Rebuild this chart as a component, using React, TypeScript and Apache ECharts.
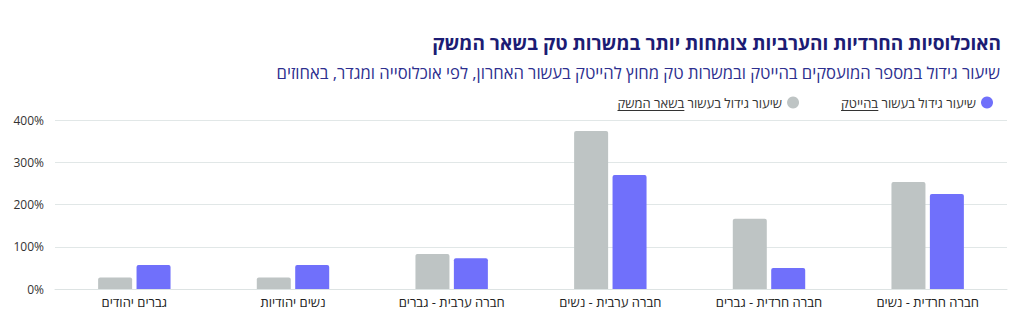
import React, { useEffect, useRef } from "react";
import * as echarts from "echarts";

const categories = [
  "גברים יהודים",
  "נשים יהודיות",
  "חברה ערבית - גברים",
  "חברה ערבית - נשים",
  "חברה חרדית - גברים",
  "חברה חרדית - נשים",
];
const restOfEconomy = [27, 27, 83, 374, 166, 253];
const hiTech = [57, 57, 73, 270, 50, 225];
const yTicks = [0, 100, 200, 300, 400];

const titleText = "האוכלוסיות החרדיות והערביות צומחות יותר במשרות טק בשאר המשק";
const subtitleText =
  "שיעור גידול במספר המועסקים בהייטק ובמשרות טק מחוץ להייטק בעשור האחרון, לפי אוכלוסייה ומגדר, באחוזים";
const restName = "שיעור גידול בעשור בשאר המשק";
const hiTechName = "שיעור גידול בעשור בהייטק";
const restUnderlined = "בשאר המשק";
const hiTechUnderlined = "בהייטק";

const FONT = "'Open Sans', 'Liberation Sans', 'DejaVu Sans', sans-serif";

export default function App() {
  const ref = useRef<HTMLDivElement>(null);
  useEffect(() => {
    document.body.style.margin = "0";
    if (!ref.current) return;
    const chart = echarts.init(ref.current, undefined, { renderer: "svg" });

    const legendFontSize = 13;
    const legendY = 99;

    chart.setOption({
      animation: false,
      textStyle: { fontFamily: FONT },
      title: [
        {
          text: titleText,
          right: 18,
          top: 28,
          textStyle: { fontSize: 19, fontWeight: "bold", color: "#1c1c74", fontFamily: FONT },
        },
        {
          text: subtitleText,
          right: 19,
          top: 59,
          textStyle: { fontSize: 16.6, fontWeight: "normal", color: "#2d2f8f", fontFamily: FONT },
        },
      ],
      legend: {
        data: [restName, hiTechName],
        right: 26,
        top: legendY - 8,
        icon: "circle",
        itemWidth: 12,
        itemHeight: 12,
        itemGap: 42,
        align: "right",
        textStyle: { fontSize: legendFontSize, color: "#333", fontFamily: FONT },
        selectedMode: false,
      },
      grid: { left: 55, right: 17, top: 120, bottom: 42, containLabel: false },
      xAxis: {
        type: "category",
        data: categories,
        axisTick: { show: false },
        axisLine: { lineStyle: { color: "#dde3e3" } },
        axisLabel: { fontSize: 13, color: "#222", margin: 6, fontFamily: FONT },
      },
      yAxis: {
        type: "value",
        min: yTicks[0],
        max: yTicks[yTicks.length - 1],
        interval: 100,
        axisLabel: { formatter: "{value}%", fontSize: 12, color: "#333", margin: 11, fontFamily: FONT },
        splitLine: { lineStyle: { color: "#e1e7e7" } },
        axisLine: { show: false },
        axisTick: { show: false },
      },
      series: [
        {
          name: restName,
          type: "bar",
          data: restOfEconomy,
          barWidth: 34,
          barGap: "13%",
          itemStyle: { color: "#bec4c4", borderRadius: [2, 2, 0, 0] },
        },
        {
          name: hiTechName,
          type: "bar",
          data: hiTech,
          barWidth: 34,
          barGap: "13%",
          itemStyle: { color: "#7070fb", borderRadius: [2, 2, 0, 0] },
        },
      ],
    });

    // underline the emphasised part of each legend label (visually the left end of the RTL text)
    const container = ref.current;
    const svg = container.querySelector("svg");
    const lines: any[] = [];
    if (svg) {
      const base = container.getBoundingClientRect();
      const texts = Array.from(svg.querySelectorAll("text"));
      const pairs: [string, string][] = [
        [restName, restUnderlined],
        [hiTechName, hiTechUnderlined],
      ];
      pairs.forEach(([name, word]) => {
        const el = texts.find((t) => t.textContent === name) as SVGTextElement | undefined;
        if (!el) return;
        const r = el.getBoundingClientRect();
        const clone = el.cloneNode(true) as SVGTextElement;
        clone.textContent = word;
        el.parentNode!.appendChild(clone);
        const wordW = clone.getBoundingClientRect().width;
        el.parentNode!.removeChild(clone);
        const x1 = r.left - base.left;
        const y = Math.round(r.bottom - base.top) - 1.5;
        lines.push({
          type: "line",
          silent: true,
          shape: { x1, y1: y, x2: x1 + wordW, y2: y },
          style: { stroke: "#333", lineWidth: 1 },
        });
      });
    }
    if (lines.length) chart.setOption({ graphic: lines });

    return () => chart.dispose();
  }, []);
  return <div ref={ref} style={{ width: 1024, height: 331 }} />;
}
